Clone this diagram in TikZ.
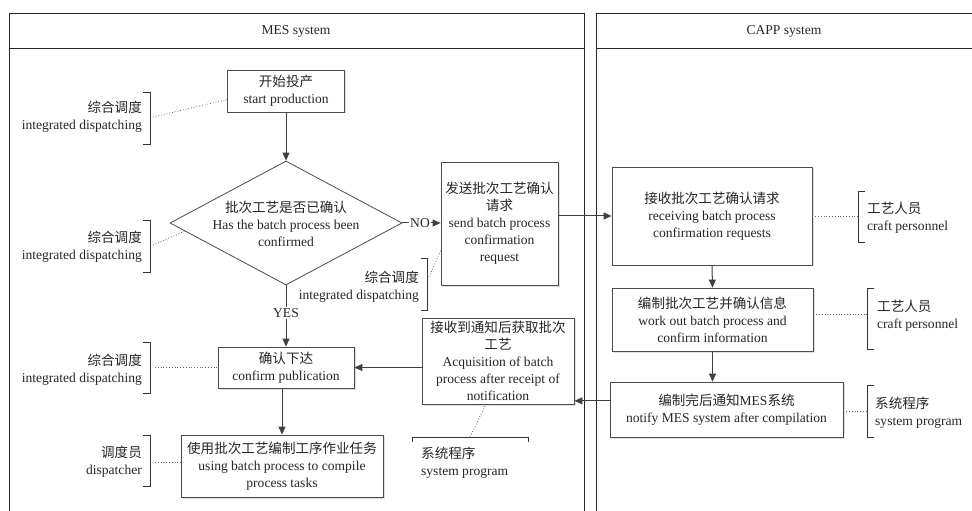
\documentclass[tikz,border=0pt]{standalone}
\usepackage{fontspec}
\setmainfont{Liberation Serif}
\newfontfamily\cjk{Noto Sans CJK SC}
\usetikzlibrary{shapes.geometric,arrows.meta,calc,shadows}

\begin{document}
\begin{tikzpicture}[x=1bp,y={(0,-1bp)},
  txt/.style={font=\fontsize{13.6}{17}\selectfont, text=black!85},
  box/.style={txt, draw=black!70, line width=0.8bp, fill=white, align=center, inner sep=2bp,
    drop shadow={shadow xshift=1.5bp, shadow yshift=-1.5bp, fill=black!25, opacity=0.5}},
  flow/.style={draw=black!75, line width=1bp, -{Triangle[length=8bp,width=7bp]}},
  link/.style={draw=black!75, line width=1bp},
  dots/.style={draw=black!60, dotted, line width=0.8bp},
  brk/.style={draw=black!80, line width=0.9bp},
  lane/.style={draw=black!85, line width=0.9bp},
  lleft/.style={txt, align=right, anchor=east, inner sep=0},
  lright/.style={txt, align=left, anchor=west, inner sep=0},
]
\useasboundingbox (0,0) rectangle (972,511);

% swim lanes
\draw[lane] (9,511) -- (9,13) -- (584,13) -- (584,511);
\draw[lane] (9,48) -- (584,48);
\draw[lane] (596,511) -- (596,13) -- (973,13);
\draw[lane] (596,48) -- (973,48);
\node[txt] (mes) at (296,31) {MES system};
\node[txt] (capp) at (784,31) {CAPP system};

% MES process steps
\node[box, minimum width=117bp, minimum height=42bp] (start) at (286,91)
  {{\cjk 开始投产}\\start production};
\node[draw=black!70, line width=0.8bp, fill=white, diamond, inner sep=0,
  minimum width=232bp, minimum height=124bp] (dia) at (286,223) {};
\node[txt, align=center] (diatext) at (286,224)
  {{\cjk 批次工艺是否已确认}\\Has the batch process been\\confirmed};
\node[box, minimum width=117bp, minimum height=123bp] (send) at (499.5,223.5)
  {{\cjk 发送批次工艺确认}\\{\cjk 请求}\\send batch process\\confirmation\\request};
\node[box, minimum width=152bp, minimum height=86bp] (acq) at (498,361)
  {{\cjk 接收到通知后获取批次}\\{\cjk 工艺}\\Acquisition of batch\\process after receipt of\\notification};
\node[box, minimum width=136bp, minimum height=41bp] (confirm) at (286,367.5)
  {{\cjk 确认下达}\\confirm publication};
\node[box, minimum width=202bp, minimum height=62bp] (task) at (282,466)
  {{\cjk 使用批次工艺编制工序作业任务}\\using batch process to compile\\process tasks};

% CAPP process steps
\node[box, minimum width=200bp, minimum height=98bp] (recv) at (712,216)
  {{\cjk 接收批次工艺确认请求}\\receiving batch process\\confirmation requests};
\node[box, minimum width=201bp, minimum height=63bp] (work) at (712.5,319.5)
  {{\cjk 编制批次工艺并确认信息}\\work out batch process and\\confirm information};
\node[box, minimum width=233bp, minimum height=55bp] (notify) at (726.5,409.5)
  {{\cjk 编制完后通知}MES{\cjk 系统}\\notify MES system after compilation};

% branch labels
\node[txt, inner sep=1bp] (no) at (420,223) {NO};
\node[txt, inner sep=1bp, fill=white] (yes) at (286,313) {YES};

% flow connectors
\draw[flow] (start.south) -- (dia.north);
\draw[link] (dia.east) -- (no.west);
\draw[flow] (no.east) -- (send.west |- no.east);
\draw[link] (dia.south) -- (yes.north);
\draw[flow] (yes.south) -- (confirm.north);
\draw[flow] (send.east |- recv.west) -- (recv.west);
\draw[flow] (recv.south) -- (work.north);
\draw[flow] (work.south) -- (work.south |- notify.north);
\coordinate (nout) at ($(notify.north west)!0.345!(notify.south west)$);
\draw[flow] (nout) -- (acq.east |- nout);
\draw[flow] (acq.west |- confirm.east) -- (confirm.east);
\draw[flow] (confirm.south -| task.north) -- (task.north);

% role annotations, left side
\node[lleft] (r1) at (142,117) {{\cjk 综合调度}\\integrated dispatching};
\draw[brk] (143,92) -- (150,92) -- (150,144) -- (143,144);
\coordinate (b1) at (153,117);
\draw[dots] (b1) -- ($(start.north west)!0.7!(start.south west)$);

\node[lleft] (r2) at (142,247) {{\cjk 综合调度}\\integrated dispatching};
\draw[brk] (143,220) -- (150,220) -- (150,272) -- (143,272);
\coordinate (b2) at (153,245);
\draw[dots] (b2) -- ($(dia.west)!0.13!(dia.south)$);

\node[lleft] (r3) at (419,286.5) {{\cjk 综合调度}\\integrated dispatching};
\draw[brk] (421,258) -- (427,258) -- (427,310) -- (421,310);
\coordinate (b3) at (429,277);
\draw[dots] (b3) -- ($(send.north west)!0.72!(send.south west)$);

\node[lleft] (r4) at (142,369.5) {{\cjk 综合调度}\\integrated dispatching};
\draw[brk] (143,342) -- (150,342) -- (150,393) -- (143,393);
\coordinate (b4) at (155,367);
\draw[dots] (b4) -- (confirm.west |- b4);

\node[lleft] (r5) at (142,462) {{\cjk 调度员}\\dispatcher};
\draw[brk] (143,435) -- (150,435) -- (150,486) -- (143,486);
\coordinate (b5) at (155,462);
\draw[dots] (b5) -- (task.west |- b5);

% system program under the acquisition step
\node[lright] (r6) at (421,462.5) {{\cjk 系统程序}\\system program};
\draw[brk] (412,442) -- (412,437) -- (528,437) -- (528,442);
\coordinate (b6) at (470,437);
\draw[dots] (b6) -- ($(acq.south west)!0.42!(acq.south east)$);

% role annotations, right side
\node[lright] (r7) at (867,217.5) {{\cjk 工艺人员}\\craft personnel};
\draw[brk] (865,191) -- (858,191) -- (858,242) -- (865,242);
\coordinate (b7) at (858,216);
\draw[dots] (recv.east) -- (b7);

\node[lright] (r8) at (877,315.5) {{\cjk 工艺人员}\\craft personnel};
\draw[brk] (874,288) -- (867,288) -- (867,349) -- (874,349);
\coordinate (b8) at (867,314);
\draw[dots] (work.east |- b8) -- (b8);

\node[lright] (r9) at (875,412.5) {{\cjk 系统程序}\\system program};
\draw[brk] (874,385) -- (867,385) -- (867,437) -- (874,437);
\coordinate (b9) at (867,411);
\draw[dots] (notify.east |- b9) -- (b9);
\end{tikzpicture}
\end{document}
